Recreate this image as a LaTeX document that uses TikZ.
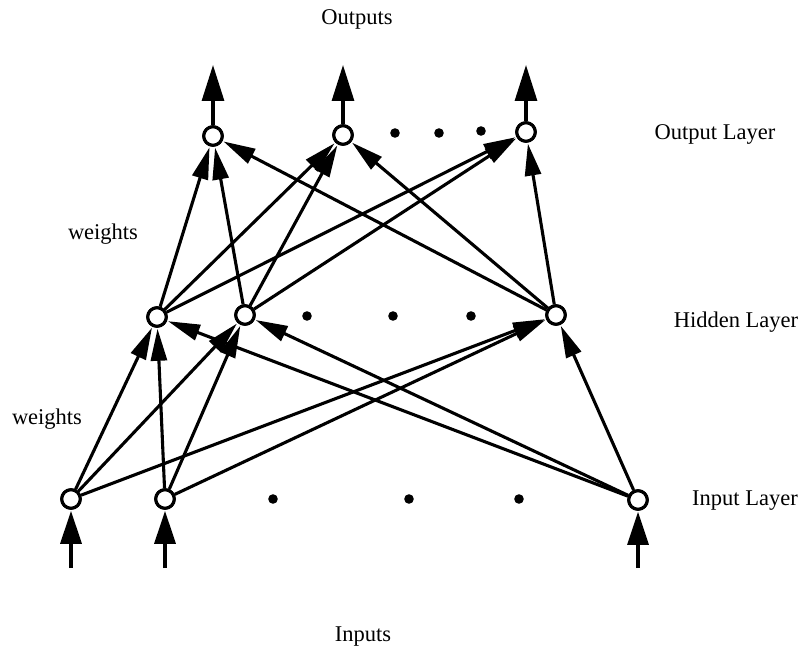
\documentclass[tikz,border=0pt]{standalone}
\usepackage{fontspec}
\setmainfont{Liberation Serif}
\usetikzlibrary{arrows.meta}
\begin{document}
\begin{tikzpicture}[x=1pt,y=-1pt,
  unit/.style={circle,draw=black,line width=3.1pt,fill=white,minimum size=18.5pt,inner sep=0pt},
  wire/.style={line width=3.1pt,-{Triangle[length=32pt,width=16pt]},shorten >=1pt},
  outarrow/.style={line width=3.1pt,-{Triangle[length=36pt,width=22pt]}},
  inarrow/.style={line width=3.1pt,-{Triangle[length=33pt,width=21pt]},shorten >=1pt},
  lbl/.style={font=\fontsize{22.5}{26}\selectfont,inner sep=0pt},
  dot/.style={fill=black}]
\useasboundingbox[fill=white] (0,0) rectangle (806,650);
% nodes
\node[unit] (I1) at (71,499) {};
\node[unit] (I2) at (165,499) {};
\node[unit] (I3) at (638,500) {};
\node[unit] (H1) at (157,317) {};
\node[unit] (H2) at (245,315) {};
\node[unit] (H3) at (556,315) {};
\node[unit] (O1) at (213,136) {};
\node[unit] (O2) at (343,135) {};
\node[unit] (O3) at (526,132) {};
% input -> hidden
\foreach \i in {I1,I2,I3}{
  \foreach \h in {H1,H2,H3}{
    \draw[wire] (\i) -- (\h);
  }
}
% hidden -> output
\foreach \h in {H1,H2,H3}{
  \foreach \o in {O1,O2,O3}{
    \draw[wire] (\h) -- (\o);
  }
}
% redraw node circles on top of the wires
\foreach \x/\y in {71/499,165/499,638/500,157/317,245/315,556/315,213/136,343/135,526/132}{
  \node[unit] at (\x,\y) {};
}
% output arrows
\coordinate (T1) at (213,65);
\coordinate (T2) at (343,65);
\coordinate (T3) at (526,65);
\draw[outarrow] (O1) -- (T1);
\draw[outarrow] (O2) -- (T2);
\draw[outarrow] (O3) -- (T3);
% input arrows
\coordinate (B1) at (71,568);
\coordinate (B2) at (165,568);
\coordinate (B3) at (638,568);
\draw[inarrow] (B1) -- (I1);
\draw[inarrow] (B2) -- (I2);
\draw[inarrow] (B3) -- (I3);
% dots
\fill[dot] (395,133) circle (4.8);
\fill[dot] (439,133) circle (4.8);
\fill[dot] (481,131) circle (4.8);
\fill[dot] (307,316) circle (4.8);
\fill[dot] (393,316) circle (4.8);
\fill[dot] (471,316) circle (4.8);
\fill[dot] (273,499) circle (4.8);
\fill[dot] (409,499) circle (4.8);
\fill[dot] (519,499) circle (4.8);
% labels
\node[lbl,anchor=base] (outs) at (357,25) {Outputs};
\node[lbl,anchor=base] (ins) at (363,641) {Inputs};
\node[lbl,anchor=base] (olay) at (715,140) {Output Layer};
\node[lbl,anchor=base] (hlay) at (736,327) {Hidden Layer};
\node[lbl,anchor=base] (ilay) at (745,505) {Input Layer};
\node[lbl,anchor=base] (w1) at (103,239) {weights};
\node[lbl,anchor=base] (w2) at (47,424) {weights};
\end{tikzpicture}
\end{document}
